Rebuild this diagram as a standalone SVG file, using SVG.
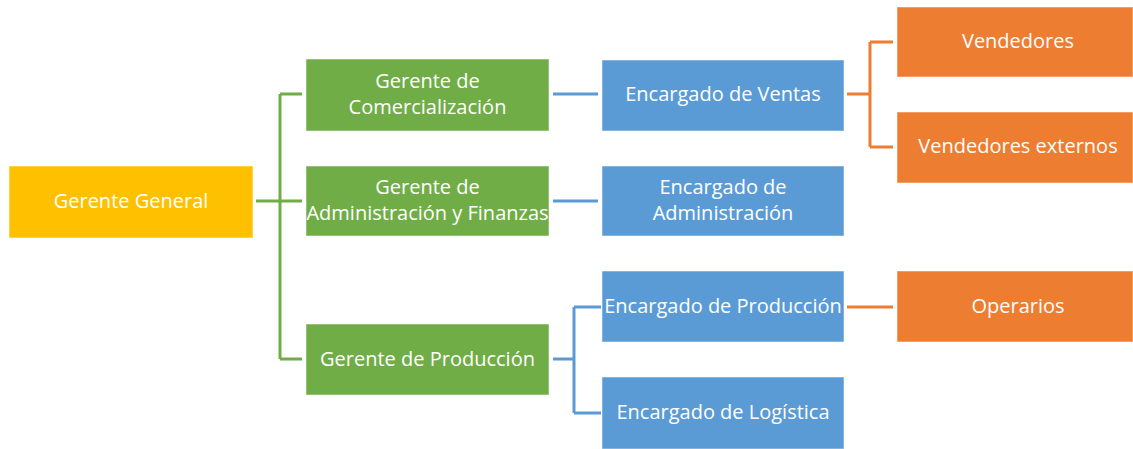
<svg xmlns="http://www.w3.org/2000/svg" width="1133" height="449" viewBox="0 0 1133 449">
<style>
.box{stroke:#ffffff;stroke-opacity:0.5;stroke-width:1}
.y{fill:#FFC000}.g{fill:#70AD47}.b{fill:#5B9BD5}.o{fill:#ED7D31}
text{font-family:"Open Sans","Liberation Sans",sans-serif;font-size:20px;fill:#ffffff;text-anchor:middle}
.cg,.cb,.co{fill:none;stroke-width:3}
.cg{stroke:#70AD47}.cb{stroke:#5B9BD5}.co{stroke:#ED7D31}
</style>
<rect width="1133" height="449" fill="#ffffff"/>
<g id="connectors">
<path class="cg" d="M256 201H302M280 94V359M280 94H302M280 359H302"/>
<path class="cb" d="M553 94H598M553 201H598M553 359H574M574 307V413M574 307H601M574 413H601"/>
<path class="co" d="M847 94H870M870 42V147M870 42H893M870 147H893M847 307H893"/>
</g>
<g id="gerente-general"><rect class="box y" x="9" y="166" width="244" height="72"/><text x="131" y="208">Gerente General</text></g>
<g id="gerente-comercializacion"><rect class="box g" x="306" y="59" width="243" height="72"/><text x="427.5" y="88">Gerente de</text><text x="427.5" y="114">Comercialización</text></g>
<g id="gerente-administracion"><rect class="box g" x="306" y="166" width="243" height="70"/><text x="427.5" y="194">Gerente de</text><text x="427.5" y="220">Administración y Finanzas</text></g>
<g id="gerente-produccion"><rect class="box g" x="306" y="324" width="243" height="71"/><text x="427.5" y="366">Gerente de Producción</text></g>
<g id="encargado-ventas"><rect class="box b" x="602" y="60" width="242" height="71"/><text x="723" y="101">Encargado de Ventas</text></g>
<g id="encargado-administracion"><rect class="box b" x="602" y="166" width="242" height="70"/><text x="723" y="194">Encargado de</text><text x="723" y="220">Administración</text></g>
<g id="encargado-produccion"><rect class="box b" x="602" y="271" width="242" height="71"/><text x="723" y="313">Encargado de Producción</text></g>
<g id="encargado-logistica"><rect class="box b" x="602" y="377" width="242" height="72"/><text x="723" y="419">Encargado de Logística</text></g>
<g id="vendedores"><rect class="box o" x="897" y="7" width="236" height="70"/><text x="1018" y="48">Vendedores</text></g>
<g id="vendedores-externos"><rect class="box o" x="897" y="112" width="236" height="71"/><text x="1018" y="153">Vendedores externos</text></g>
<g id="operarios"><rect class="box o" x="897" y="271" width="236" height="71"/><text x="1018" y="313">Operarios</text></g>
</svg>
